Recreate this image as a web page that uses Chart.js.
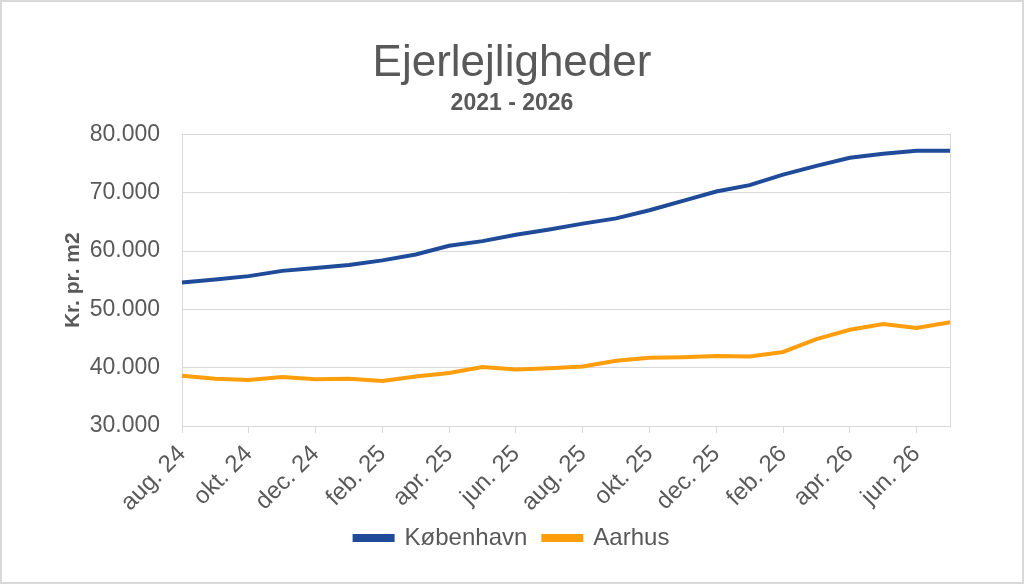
<!DOCTYPE html>
<html>
<head>
<meta charset="utf-8">
<script src="https://cdn.jsdelivr.net/npm/chart.js@4"></script>
<style>
  body { margin: 0; background: #fff; }
  #wrap { width: 1020px; height: 580px; border: 2px solid #d9d9d9; background: #fff; }
</style>
</head>
<body>
<div id="wrap"><canvas id="chart" width="1020" height="580"></canvas></div>
<script>
var months = ["aug. 24", "sep. 24", "okt. 24", "nov. 24", "dec. 24", "jan. 25",
  "feb. 25", "mar. 25", "apr. 25", "maj. 25", "jun. 25", "jul. 25",
  "aug. 25", "sep. 25", "okt. 25", "nov. 25", "dec. 25", "jan. 26",
  "feb. 26", "mar. 26", "apr. 26", "maj. 26", "jun. 26", "jul. 26"];

var kobenhavn = [54600, 55100, 55700, 56600, 57100, 57600, 58400, 59400, 60900, 61700, 62800, 63700,
  64700, 65600, 67000, 68600, 70200, 71300, 73100, 74600, 76000, 76700, 77200, 77200];

var aarhus = [38600, 38100, 37900, 38400, 38000, 38100, 37700, 38500, 39100, 40100, 39700, 39900,
  40200, 41200, 41700, 41800, 42000, 41900, 42700, 44900, 46500, 47500, 46800, 47800];

var yMin = 30000, yMax = 80000, yStep = 10000;

var grey = '#595959';
var lineGrey = '#d9d9d9';
var font = '"Liberation Sans", Arial, sans-serif';

function dots(v) {
  return String(v).replace(/\B(?=(\d{3})+(?!\d))/g, '.');
}

var config = {
  type: 'line',
  data: {
    labels: months,
    datasets: [
      {
        label: 'København',
        data: kobenhavn,
        borderColor: '#1f4b99',
        backgroundColor: '#1f4b99',
        borderWidth: 4,
        pointRadius: 0,
        tension: 0
      },
      {
        label: 'Aarhus',
        data: aarhus,
        borderColor: '#ff9e0d',
        backgroundColor: '#ff9e0d',
        borderWidth: 4,
        pointRadius: 0,
        tension: 0
      }
    ]
  },
  options: {
    responsive: false,
    animation: false,
    layout: { padding: { left: 0, right: 0, bottom: 22 } },
    plugins: {
      title: {
        display: true,
        text: 'Ejerlejligheder',
        color: grey,
        font: { family: font, size: 44, weight: 'normal' },
        padding: { top: 35, bottom: 0 }
      },
      subtitle: {
        display: true,
        text: '2021 - 2026',
        color: grey,
        font: { family: font, size: 23, weight: 'bold' },
        padding: { top: 0, bottom: 17 }
      },
      legend: {
        position: 'bottom',
        labels: {
          color: grey,
          font: { family: font, size: 24 },
          boxWidth: 38,
          boxHeight: 4,
          padding: 16
        }
      },
      tooltip: { enabled: false }
    },
    scales: {
      x: {
        offset: false,
        grid: {
          drawOnChartArea: false,
          drawTicks: true,
          tickLength: 7,
          tickColor: function (c) { return c.index % 2 === 0 ? lineGrey : 'rgba(0,0,0,0)'; }
        },
        border: { color: lineGrey },
        ticks: {
          autoSkip: false,
          maxRotation: 45,
          minRotation: 45,
          color: grey,
          font: { family: font, size: 24 },
          padding: 7,
          callback: function (v, i) { return i % 2 === 0 ? months[i] : ''; }
        },
        afterFit: function (s) { s.height = 84; }
      },
      y: {
        min: yMin,
        max: yMax,
        grid: { color: lineGrey, drawTicks: false },
        border: { color: lineGrey },
        ticks: {
          stepSize: yStep,
          padding: 22,
          color: grey,
          font: { family: font, size: 23 },
          callback: function (v) { return dots(v); }
        },
        title: {
          display: true,
          text: 'Kr. pr. m2',
          color: grey,
          font: { family: font, size: 21, weight: 'bold' },
          padding: { top: 59, bottom: 0 }
        },
        afterFit: function (s) { s.width = 180; }
      },
      y2: {
        position: 'right',
        min: yMin,
        max: yMax,
        grid: { drawOnChartArea: false, drawTicks: false },
        border: { color: lineGrey },
        ticks: { display: false },
        afterFit: function (s) { s.width = 72; }
      }
    }
  }
};

var chart = new Chart(document.getElementById('chart'), config);
</script>
</body>
</html>
